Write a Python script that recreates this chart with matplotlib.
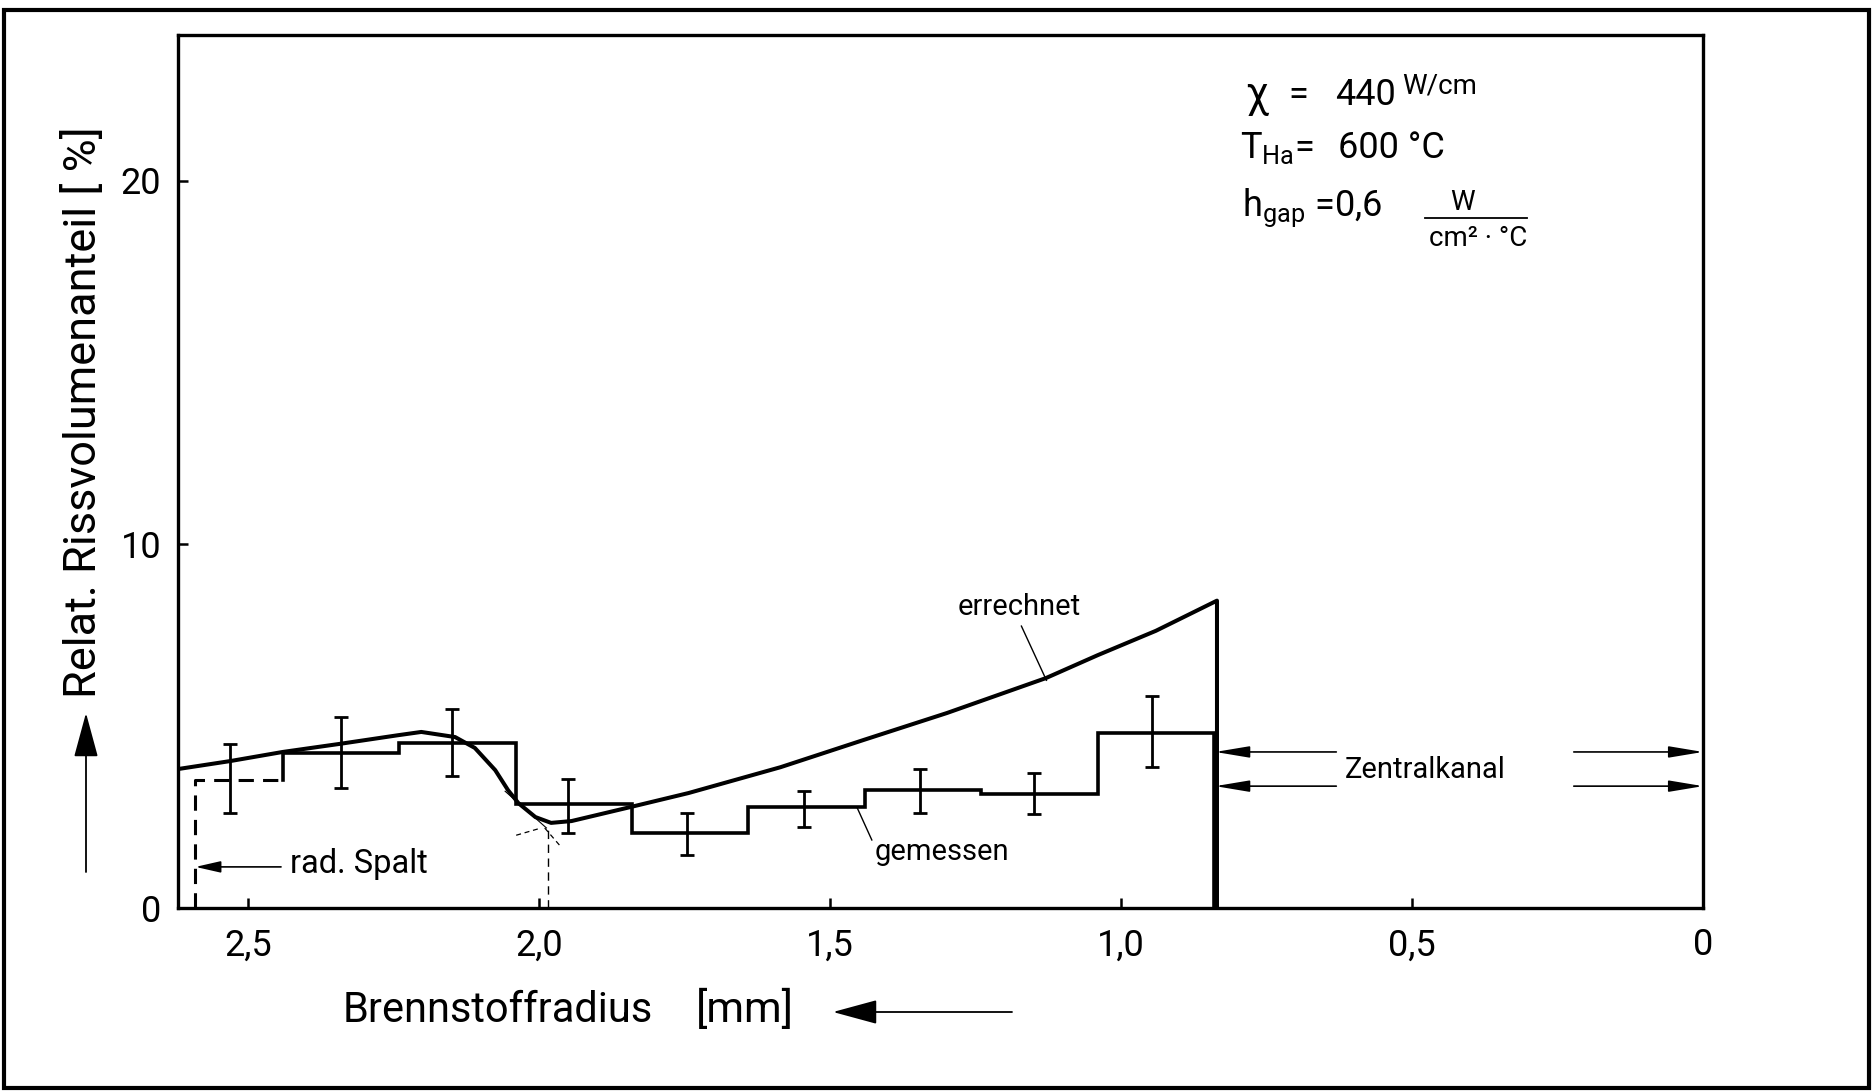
import numpy as np
import matplotlib
matplotlib.use("Agg")
import matplotlib.pyplot as plt
from matplotlib.patches import Rectangle

plt.rcParams['font.family'] = ['Roboto', 'DejaVu Sans']
plt.rcParams['mathtext.fontset'] = 'custom'
plt.rcParams['mathtext.rm'] = 'Roboto'
plt.rcParams['mathtext.it'] = 'Roboto:italic'
plt.rcParams['mathtext.bf'] = 'Roboto:bold'

# measured crack volume fraction, bins of 0.2 mm (first bin = dashed, rad. gap)
bin_edges = [2.59, 2.44, 2.24, 2.04, 1.84, 1.64, 1.44, 1.24, 1.04, 0.84]
gemessen = [3.52, 4.26, 4.53, 2.85, 2.06, 2.77, 3.24, 3.13, 4.81]

# error bars
err_x = [2.53, 2.34, 2.15, 1.95, 1.745, 1.545, 1.345, 1.15, 0.946]
err_top = [4.51, 5.25, 5.47, 3.54, 2.61, 3.21, 3.82, 3.71, 5.82]
err_bot = [2.61, 3.30, 3.63, 2.06, 1.46, 2.23, 2.61, 2.58, 3.87]

# calculated curve
calc_x = [2.62, 2.53, 2.44, 2.343, 2.242, 2.202, 2.144, 2.11, 2.075, 2.053,
          2.035, 2.006, 1.979, 1.944, 1.844, 1.743, 1.585, 1.442, 1.299,
          1.129, 1.04, 0.94, 0.835, 0.835]
calc_y = [3.82, 4.04, 4.29, 4.51, 4.75, 4.84, 4.70, 4.40, 3.79, 3.24,
          2.88, 2.50, 2.34, 2.39, 2.77, 3.16, 3.87, 4.62, 5.36,
          6.32, 6.95, 7.62, 8.45, 0.0]

x_ticks = [2.5, 2.0, 1.5, 1.0, 0.5, 0]
x_labels = ["2,5", "2,0", "1,5", "1,0", "0,5", "0"]
y_ticks = [0, 10, 20]
kanal_y = [4.29, 3.35]

W, H = 1873, 1091
fig = plt.figure(figsize=(W / 100, H / 100), dpi=100)

def fx(px):
    return px / W

def fy(py):
    return 1 - py / H

ax = fig.add_axes([fx(178), fy(908), fx(1703) - fx(178), fy(35) - fy(908)])
ax.set_xlim(2.62, 0)
ax.set_ylim(0, 24)
for sp in ax.spines.values():
    sp.set_linewidth(2.4)

ax.set_xticks(x_ticks)
ax.set_xticklabels(x_labels)
ax.set_yticks(y_ticks)
ax.tick_params(direction='in', length=7, width=1.8, labelsize=26)
ax.tick_params(axis='x', pad=14)
ax.tick_params(axis='y', pad=12)

# step outline of measured values
e = np.array(bin_edges)
v = np.array(gemessen)
xs = np.repeat(e[1:], 2)
ys = np.concatenate([[v[0]], np.repeat(v[1:], 2), [0]])
ax.plot(xs, ys, color='black', lw=2.6, solid_joinstyle='miter')
ax.plot([e[0], e[0], e[1]], [0, v[0], v[0]], color='black', lw=2.2,
        ls=(0, (5, 3)))

yc = np.array(gemessen)
yerr = [yc - np.array(err_bot), np.array(err_top) - yc]
ax.errorbar(err_x, yc, yerr=yerr, fmt='none', ecolor='black',
            elinewidth=2.0, capsize=5, capthick=2.0)

ax.plot(calc_x, calc_y, color='black', lw=2.9)

# construction lines near 2,0
ax.plot([2.058, 1.987], [3.21, 2.20], color='black', lw=0.8)
ax.plot([2.039, 1.996], [2.0, 2.2], color='black', lw=0.9, ls=(0, (4, 3)))
ax.plot([1.99, 1.962], [2.2, 1.68], color='black', lw=0.9, ls=(0, (4, 3)))
ax.plot([1.984, 1.984], [0, 2.2], color='black', lw=1.0, ls=(0, (6, 4)))

# labels inside the plot
ax.text(1.175, 8.27, "errechnet", fontsize=21, ha='center', va='center')
ax.plot([1.171, 1.128], [7.75, 6.26], color='black', lw=1.0)
ax.text(1.308, 1.54, "gemessen", fontsize=21, ha='center', va='center')
ax.plot([1.453, 1.428], [2.75, 1.87], color='black', lw=1.0)

ax.text(2.428, 1.22, "rad. Spalt", fontsize=23.5, ha='left', va='center')
ax.annotate("", xy=(2.59, 1.13), xytext=(2.443, 1.13),
            arrowprops=dict(arrowstyle='-|>,head_length=1.1,head_width=0.25',
                            mutation_scale=14, color='black', lw=1.2,
                            shrinkA=0, shrinkB=0))

ax.text(0.478, 3.79, "Zentralkanal", fontsize=21, ha='center', va='center')
for yk in kanal_y:
    ax.annotate("", xy=(0.838, yk), xytext=(0.63, yk),
                arrowprops=dict(arrowstyle='-|>,head_length=1.5,head_width=0.25',
                                mutation_scale=14, color='black', lw=1.2,
                                shrinkA=0, shrinkB=0))
    ax.annotate("", xy=(0.0, yk), xytext=(0.222, yk),
                arrowprops=dict(arrowstyle='-|>,head_length=1.5,head_width=0.25',
                                mutation_scale=14, color='black', lw=1.2,
                                shrinkA=0, shrinkB=0))

# parameter block
fig.text(fx(1245), fy(95), "χ", fontsize=30, ha='left', va='center')
fig.text(fx(1288), fy(95), "=", fontsize=26, ha='left', va='center')
fig.text(fx(1335), fy(95), "440", fontsize=26, ha='left', va='center')
fig.text(fx(1402), fy(86), "W/cm", fontsize=20, ha='left', va='center')
fig.text(fx(1240), fy(148), r"$\mathrm{T_{Ha}}$=", fontsize=26, ha='left',
         va='center')
fig.text(fx(1338), fy(148), "600 °C", fontsize=26, ha='left', va='center')
fig.text(fx(1242), fy(208), r"$\mathrm{h_{gap}}$ =0,6", fontsize=26,
         ha='left', va='center')
fig.text(fx(1462), fy(202), "W", fontsize=20, ha='center', va='center')
fig.add_artist(plt.Line2D([fx(1425), fx(1527)], [fy(218), fy(218)],
                          color='black', lw=1.3))
fig.text(fx(1478), fy(238), "cm² · °C", fontsize=20, ha='center', va='center')

# axis titles with arrows
fig.text(fx(84), fy(698), "Relat. Rissvolumenanteil [ %]", fontsize=32.5,
         rotation=90, ha='center', va='bottom')
ax.annotate("", xy=(fx(86), fy(713)), xytext=(fx(86), fy(872)),
            xycoords='figure fraction', textcoords='figure fraction',
            arrowprops=dict(arrowstyle='-|>,head_length=1.4,head_width=0.38',
                            mutation_scale=20, color='black', lw=1.3,
                            shrinkA=0, shrinkB=0))

fig.text(fx(343), fy(1010), "Brennstoffradius", fontsize=30,
         ha='left', va='center')
fig.text(fx(696), fy(1010), "[mm]", fontsize=31, ha='left', va='center')
ax.annotate("", xy=(fx(833), fy(1012)), xytext=(fx(1012), fy(1012)),
            xycoords='figure fraction', textcoords='figure fraction',
            arrowprops=dict(arrowstyle='-|>,head_length=1.4,head_width=0.38',
                            mutation_scale=20, color='black', lw=1.3,
                            shrinkA=0, shrinkB=0))

# outer frame
fig.add_artist(Rectangle((fx(4), fy(1088)), fx(1869) - fx(4),
                         fy(10) - fy(1088), transform=fig.transFigure,
                         fill=False, lw=3, edgecolor='black'))

fig.savefig("out.png", dpi=100)
